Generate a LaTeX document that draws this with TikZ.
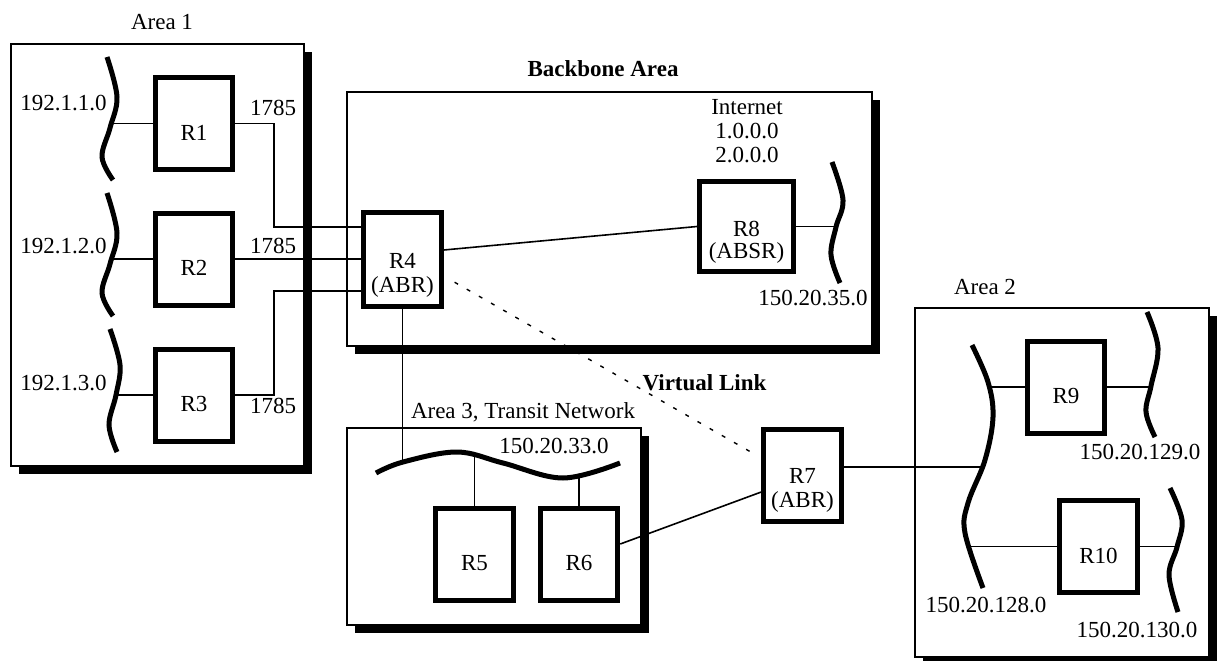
\documentclass[tikz,border=0pt]{standalone}
\usepackage{fontspec}
\setmainfont{Liberation Serif}
\usetikzlibrary{shadows}
\begin{document}
\begin{tikzpicture}[x=1pt,y=-1pt,
  every node/.style={font=\fontsize{23}{24}\selectfont},
  txt/.style={inner sep=0pt, anchor=base},
  btxt/.style={txt, font=\fontsize{23}{24}\selectfont\bfseries},
  area/.style={draw, line width=2pt, fill=white, inner sep=0pt,
    general shadow={fill=black, shadow xshift=8pt, shadow yshift=-8pt}},
  router/.style={draw, line width=5pt, fill=white, inner sep=0pt,
    minimum width=77.5pt, minimum height=92pt},
  link/.style={line width=1.6pt},
  vlink/.style={line width=1.4pt, dash pattern=on 4pt off 10pt},
  net/.style={line width=5pt}
]
\useasboundingbox (0,0) rectangle (1218,661);

% areas
\node[area, minimum width=293pt, minimum height=422pt] (a1) at (157.5,255) {};
\node[area, minimum width=525pt, minimum height=254pt] (bb) at (609.5,219) {};
\node[area, minimum width=294pt, minimum height=197pt] (a3) at (494,526.5) {};
\node[area, minimum width=294pt, minimum height=349pt] (a2) at (1062,482.5) {};

% area labels
\node[txt] (la1) at (162,29.5) {Area 1};
\node[btxt] (lbb) at (603,77) {Backbone Area};
\node[txt] (la2) at (985,294) {Area 2};
\node[txt] (la3) at (523,418.5) {Area 3, Transit Network};
\node[btxt] (lvl) at (704.5,390) {Virtual Link};

% networks (wavy lines)
\draw[net] plot[smooth, tension=0.6] coordinates {(107,57) (117,97) (110,128) (102,157) (113,180)};
\draw[net] plot[smooth, tension=0.6] coordinates {(107,193) (117,233) (110,264) (102,293) (113,316)};
\draw[net] plot[smooth, tension=0.6] coordinates {(110,329) (120,365) (116,395) (109,425) (117,452)};
\draw[net] plot[smooth, tension=0.6] coordinates {(832,162) (843,200) (836,227) (831,255) (840,283)};
\draw[net] plot[smooth, tension=0.6] coordinates {(376,473) (403,462) (457,452) (503,463) (563,478) (620,463)};
\draw[net] plot[smooth, tension=0.6] coordinates {(972,345) (988,382) (993,417) (985,460) (968,503) (965,533) (983,588)};
\draw[net] plot[smooth, tension=0.6] coordinates {(1147,312) (1158,348) (1151,386) (1146,412) (1155,437)};
\draw[net] plot[smooth, tension=0.6] coordinates {(1170,488) (1182,520) (1177,547) (1169,575) (1178,612)};

% attachment points on networks
\coordinate (w1) at (112,123.5);
\coordinate (w2) at (112,259);
\coordinate (w3) at (116,395);
\coordinate (w8) at (836,226.5);
\coordinate (w33a) at (402.5,462);
\coordinate (w5) at (474.5,452);
\coordinate (w6) at (579,477);
\coordinate (w2m) at (981,467);
\coordinate (w9a) at (989,387);
\coordinate (w9b) at (1151,387);
\coordinate (w10a) at (968,546.5);
\coordinate (w10b) at (1177,546.5);

% routers
\node[router] (r1) at (194,123.5) {};
\node[router] (r2) at (194,259) {};
\node[router] (r3) at (194,395) {};
\node[router, minimum height=94pt] (r4) at (402.5,259.5) {};
\node[router, minimum width=94pt, minimum height=90pt] (r8) at (746.5,226.5) {};
\node[router] (r5) at (474.5,554) {};
\node[router] (r6) at (579,554) {};
\node[router] (r7) at (802.5,475.5) {};
\node[router] (r9) at (1066,387) {};
\node[router] (r10) at (1098.5,546.5) {};

% connectors
\draw[link] (w1) -- (r1.west);
\draw[link] (w2) -- (r2.west);
\draw[link] (w3) -- (r3.west);
\draw[link] (r1.east) -- ++(39,0) |- ([yshift=32.5pt]r4.west);
\draw[link] (r2.east) -- (r2.east -| r4.west);
\draw[link] (r3.east) -- ++(39,0) |- ([yshift=-31.5pt]r4.west);
\draw[link] ([yshift=9.5pt]r4.east) -- (r8.west);
\draw[link] (r8.east) -- (w8);
\draw[link] (r4.south) -- (w33a);
\draw[vlink, shorten <=12.5pt, shorten >=12.5pt] ([yshift=-16.5pt]r4.east) -- ([yshift=17.5pt]r7.west);
\draw[link] (r5.north) -- (w5);
\draw[link] (r6.north) -- (w6);
\draw[link] ([yshift=10pt]r6.east) -- ([yshift=-16.5pt]r7.west);
\draw[link] ([yshift=8.5pt]r7.east) -- (w2m);
\draw[link] (w9a) -- (r9.west);
\draw[link] (r9.east) -- (w9b);
\draw[link] (w10a) -- (r10.west);
\draw[link] (r10.east) -- (w10b);

% router texts
\node[txt] (t1) at ([yshift=-16.5pt]r1.center) {R1};
\node[txt] (t2) at ([yshift=-16.5pt]r2.center) {R2};
\node[txt] (t3) at ([yshift=-16.5pt]r3.center) {R3};
\node[txt] (t4a) at ([yshift=-8.5pt]r4.center) {R4};
\node[txt] (t4b) at ([yshift=-33pt]r4.center) {(ABR)};
\node[txt] (t8a) at ([yshift=-9.5pt]r8.center) {R8};
\node[txt] (t8b) at ([yshift=-32pt]r8.center) {(ABSR)};
\node[txt] (t5) at ([yshift=-16.5pt]r5.center) {R5};
\node[txt] (t6) at ([yshift=-16.5pt]r6.center) {R6};
\node[txt] (t7a) at ([yshift=-8pt]r7.center) {R7};
\node[txt] (t7b) at ([yshift=-32pt]r7.center) {(ABR)};
\node[txt] (t9) at ([yshift=-16.5pt]r9.center) {R9};
\node[txt] (t10) at ([yshift=-16.5pt]r10.center) {R10};

% other labels
\node[txt] (c1) at (273,115.5) {1785};
\node[txt] (c2) at (273,253) {1785};
\node[txt] (c3) at (273,413) {1785};
\node[txt] (n1) at (63.5,110.5) {192.1.1.0};
\node[txt] (n2) at (63.5,253) {192.1.2.0};
\node[txt] (n3) at (63.5,390.5) {192.1.3.0};
\node[txt] (i1) at (747,114) {Internet};
\node[txt] (i2) at (747,138) {1.0.0.0};
\node[txt] (i3) at (747,162) {2.0.0.0};
\node[txt] (n35) at (813,305.5) {150.20.35.0};
\node[txt] (n33) at (554,453.5) {150.20.33.0};
\node[txt] (n129) at (1140,459.5) {150.20.129.0};
\node[txt] (n128) at (986,612.5) {150.20.128.0};
\node[txt] (n130) at (1137,637.5) {150.20.130.0};
\end{tikzpicture}
\end{document}
